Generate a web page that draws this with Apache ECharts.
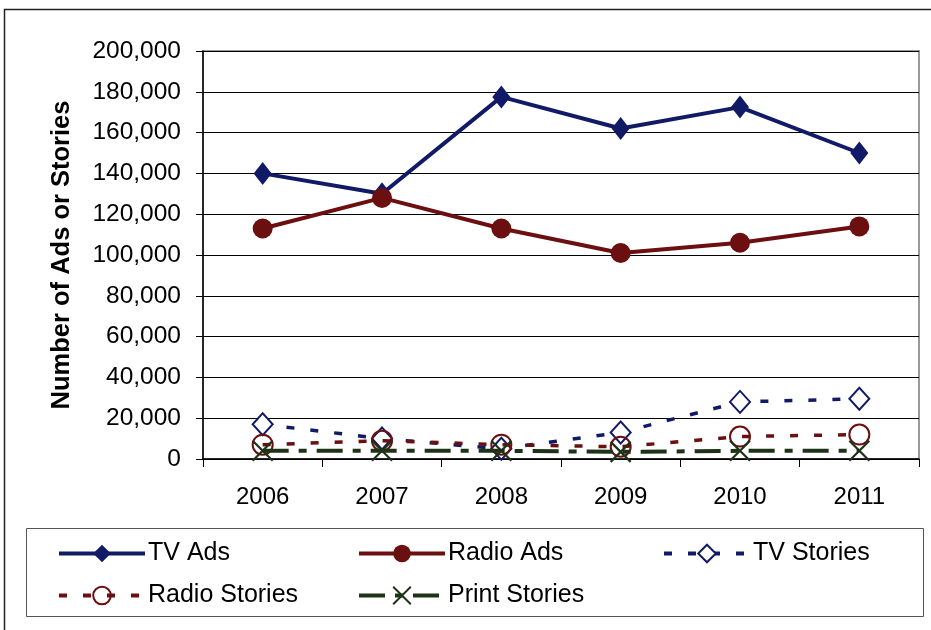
<!DOCTYPE html>
<html>
<head>
<meta charset="utf-8">
<script src="https://cdn.jsdelivr.net/npm/echarts@6/dist/echarts.min.js"></script>
<style>
  html, body { margin: 0; padding: 0; background: #fff; }
  #chart { width: 931px; height: 630px; }
</style>
</head>
<body>
<div id="chart"></div>
<script>
// Yearly counts of political ads and news stories
const years = ['2006', '2007', '2008', '2009', '2010', '2011'];
const tvAds = [140000, 130000, 177500, 162000, 172500, 150000];
const radioAds = [113000, 128000, 113000, 101000, 106000, 114000];
const tvStories = [17000, 10000, 5000, 13000, 28000, 29500];
const radioStories = [7000, 9000, 7000, 6000, 11000, 12000];
const printStories = [4000, 4000, 4000, 3500, 4000, 4000];

const NAVY = '#111a66';
const MAROON = '#6c0f10';
const GREEN = '#1d3318';
const FONT = '"Liberation Sans", Arial, sans-serif';

// stroked "x" marker for the print series
const crossPath = 'path://M0,0 L10,10 M10,0 L0,10';

const chart = echarts.init(document.getElementById('chart'), null, { renderer: 'canvas' });

function legendAt(name, left, top) {
  return {
    data: [name],
    left: left,
    top: top,
    orient: 'horizontal',
    itemWidth: 86,
    itemHeight: 22,
    itemGap: 0,
    padding: 0,
    lineStyle: { width: 4 },
    textStyle: { fontFamily: FONT, fontSize: 25, color: '#000', padding: [0, 0, 0, -2] },
    selectedMode: false
  };
}

const option = {
  animation: false,
  backgroundColor: '#fff',
  graphic: [
    {
      type: 'rect', silent: true, z: -10,
      shape: { x: 4.5, y: 9.5, width: 960, height: 660 },
      style: { fill: 'none', stroke: '#222', lineWidth: 1.5 }
    },
    {
      type: 'rect', silent: true, z: -10,
      shape: { x: 26.5, y: 528.5, width: 897, height: 88 },
      style: { fill: 'none', stroke: '#555', lineWidth: 1 }
    }
  ],
  grid: {
    left: 203, top: 51, right: 12, bottom: 171,
    show: true, borderColor: '#9a9a9a', borderWidth: 2, backgroundColor: 'transparent'
  },
  legend: [
    legendAt('TV Ads', 57, 541),
    legendAt('Radio Ads', 357, 541),
    legendAt('TV Stories', 662, 541),
    legendAt('Radio Stories', 57, 583),
    legendAt('Print Stories', 357, 583)
  ],
  xAxis: {
    type: 'category',
    data: years,
    boundaryGap: true,
    axisLine: { show: true, lineStyle: { color: '#000', width: 1.5 } },
    axisTick: { show: true, interval: 0, length: 8, lineStyle: { color: '#000', width: 1 } },
    axisLabel: { margin: 26, fontFamily: FONT, fontSize: 24, color: '#000' },
    splitLine: { show: false }
  },
  yAxis: {
    type: 'value',
    min: 0, max: 200000, interval: 20000,
    name: 'Number of Ads or Stories',
    nameLocation: 'middle',
    nameGap: 128,
    nameTextStyle: { fontFamily: FONT, fontSize: 25.5, fontWeight: 'bold', color: '#000' },
    axisLine: { show: true, lineStyle: { color: '#000', width: 1.5 } },
    axisTick: { show: true, length: 7, lineStyle: { color: '#000', width: 1 } },
    axisLabel: {
      margin: 22, fontFamily: FONT, fontSize: 24.5, color: '#000',
      formatter: v => v.toLocaleString('en-US')
    },
    splitLine: { show: true, lineStyle: { color: '#000', width: 1 } }
  },
  series: [
    {
      name: 'TV Ads', type: 'line', data: tvAds,
      symbol: 'diamond', symbolSize: [18, 23],
      lineStyle: { color: NAVY, width: 4 },
      itemStyle: { color: NAVY, borderWidth: 0 },
      z: 3
    },
    {
      name: 'Radio Ads', type: 'line', data: radioAds,
      symbol: 'circle', symbolSize: [20, 20],
      lineStyle: { color: MAROON, width: 4 },
      itemStyle: { color: MAROON, borderWidth: 0 },
      z: 4
    },
    {
      name: 'TV Stories', type: 'line', data: tvStories,
      symbol: 'diamond', symbolSize: [20, 22],
      lineStyle: { color: NAVY, width: 3.5, type: [8, 16] },
      itemStyle: { color: '#fff', borderColor: NAVY, borderWidth: 2 },
      z: 5
    },
    {
      name: 'Radio Stories', type: 'line', data: radioStories,
      symbol: 'circle', symbolSize: [20, 20],
      lineStyle: { color: MAROON, width: 3.5, type: [8, 16] },
      itemStyle: { color: 'rgba(255,255,255,0)', borderColor: MAROON, borderWidth: 2 },
      z: 6
    },
    {
      name: 'Print Stories', type: 'line', data: printStories,
      symbol: crossPath, symbolSize: [20, 20],
      lineStyle: { color: GREEN, width: 4, type: [26, 10, 8, 10] },
      itemStyle: { color: 'rgba(0,0,0,0)', borderColor: GREEN, borderWidth: 2.2 },
      z: 7
    }
  ]
};

chart.setOption(option);
</script>
</body>
</html>
